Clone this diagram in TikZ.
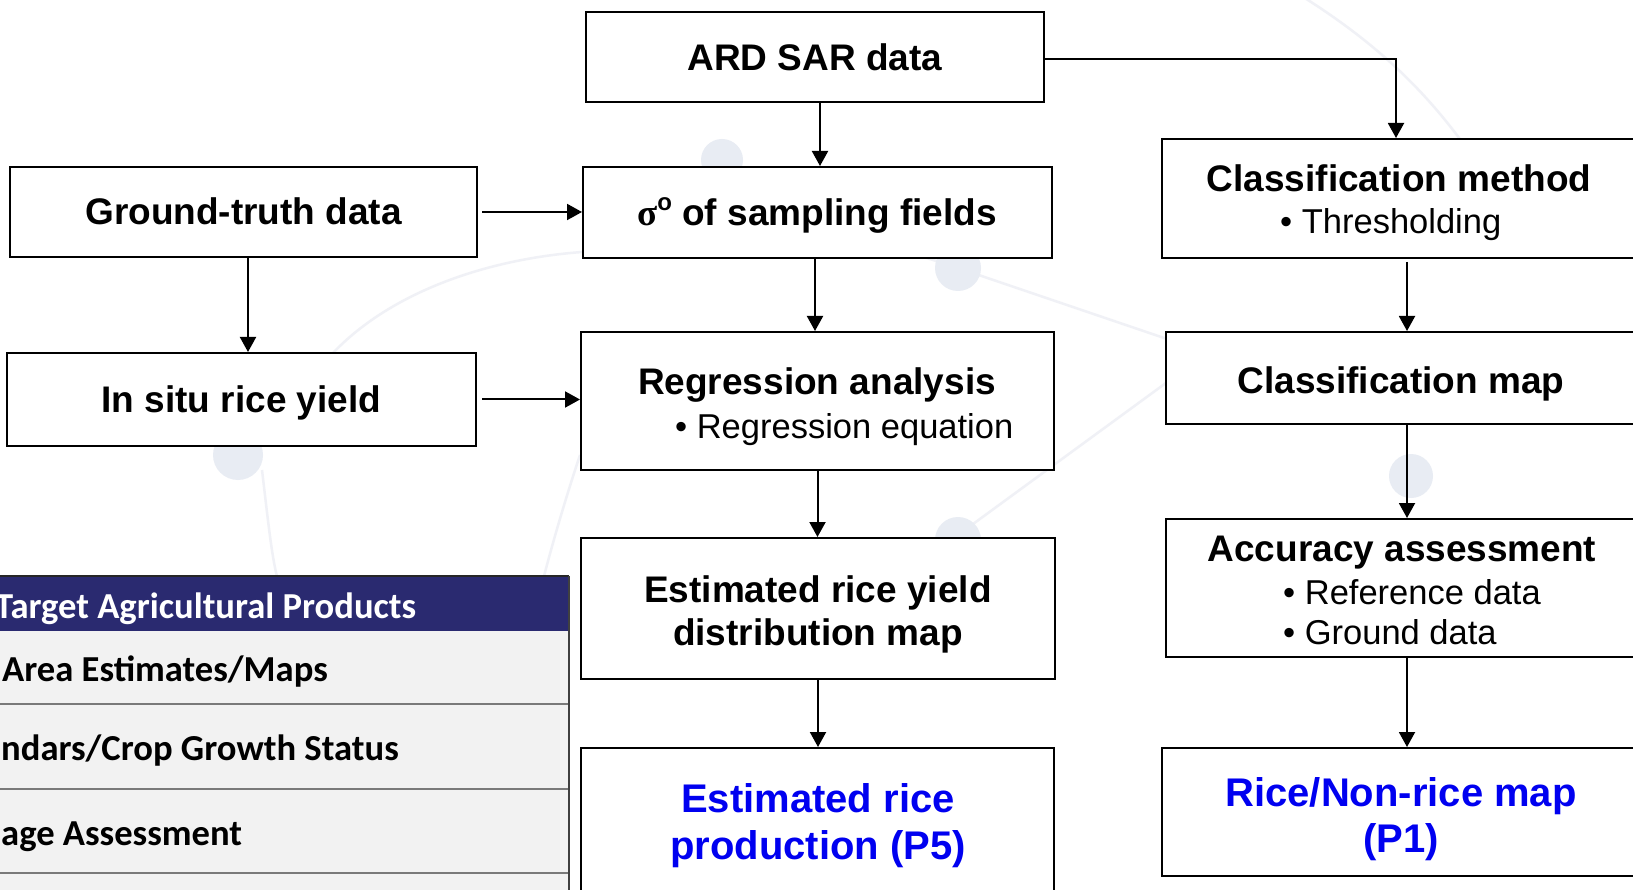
\documentclass[tikz,border=0pt]{standalone}
\usepackage{fontspec}
\setmainfont{Liberation Sans}
\newfontfamily\serifgr{Liberation Serif}
\newfontfamily\calibri{Carlito}
\usetikzlibrary{arrows.meta,calc}
\definecolor{navy}{HTML}{2A2A70}
\definecolor{rowgray}{HTML}{F2F2F2}
\definecolor{rowline}{HTML}{7A7A7A}
\definecolor{wmdot}{HTML}{E8ECF3}
\definecolor{wmline}{HTML}{F0F1F6}
\definecolor{outblue}{HTML}{0000F0}
\begin{document}
\begin{tikzpicture}[x=1pt,y=-1pt,
  box/.style={draw=black, line width=2pt, fill=white, inner sep=0pt},
  ttl/.style={font=\fontsize{37}{44}\selectfont\bfseries, inner sep=0pt, anchor=base},
  itm/.style={font=\fontsize{34.5}{40}\selectfont, inner sep=0pt, anchor=base west},
  res/.style={font=\fontsize{40}{47}\selectfont\bfseries, text=outblue, inner sep=0pt, anchor=base},
  tbl/.style={font=\calibri\bfseries\fontsize{36.6}{40}\selectfont, inner sep=0pt, anchor=base west},
  arr/.style={line width=2pt, -{Triangle[length=15pt,width=16pt]}},
  wm/.style={draw=wmline, line width=2.5pt}
]
\useasboundingbox (0,0) rectangle (1633,890);
\clip (0,0) rectangle (1633,890);
\fill[white] (0,0) rectangle (1633,890);

% faint network watermark
\draw[wm] (1300,-5) .. controls (1380,45) and (1430,95) .. (1475,160);
\draw[wm] (880,243) -- (958,268) -- (1170,340);
\draw[wm] (958,535) -- (1170,380);
\draw[wm] (582,252) .. controls (450,262) and (340,318) .. (300,400);
\draw[wm] (262,470) .. controls (268,520) and (272,560) .. (278,580);
\draw[wm] (580,455) .. controls (565,500) and (552,545) .. (543,580);
\fill[wmdot] (722,160) circle (21);
\fill[wmdot] (958,268) circle (23);
\fill[wmdot] (958,540) circle (23);
\fill[wmdot] (238,455) circle (25);
\fill[wmdot] (1411,476) circle (22);

% product table
\fill[rowgray] (-10,631) rectangle (569,900);
\fill[navy] (-10,576) rectangle (569,631);
\draw[black!85, line width=2pt] (-10,576) -- (569,576);
\foreach \yy in {704,789,873}
  \draw[rowline, line width=1.5pt] (-10,\yy) -- (569,\yy);
\draw[black!75, line width=1.5pt] (569,576) -- (569,900);
\node[tbl, text=white] (th) at (-5,618) {Target Agricultural Products};
\node[tbl] (r1) at (2,681.5) {Area Estimates/Maps};
\node[tbl] (r2) at (1,760.5) {ndars/Crop Growth Status};
\node[tbl] (r3) at (1,845) {age Assessment};

% flowchart boxes
\node[box, minimum width=458pt, minimum height=90pt]  (ard)  at (815,57) {};
\node[box, minimum width=469pt, minimum height=91pt]  (sig)  at (817.5,212.5) {};
\node[box, minimum width=467pt, minimum height=90pt]  (gt)   at (243.5,212) {};
\node[box, minimum width=469pt, minimum height=93pt]  (ins)  at (241.5,399.5) {};
\node[box, minimum width=473pt, minimum height=138pt] (reg)  at (817.5,401) {};
\node[box, minimum width=474pt, minimum height=141pt] (yld)  at (818,608.5) {};
\node[box, minimum width=473pt, minimum height=212pt] (prod) at (817.5,854) {};
\node[box, minimum width=475pt, minimum height=119pt] (cm)   at (1399.5,198.5) {};
\node[box, minimum width=471pt, minimum height=92pt]  (cmap) at (1401.5,378) {};
\node[box, minimum width=471pt, minimum height=138pt] (acc)  at (1401.5,588) {};
\node[box, minimum width=475pt, minimum height=128pt] (rice) at (1399.5,812) {};

% box texts
\node[ttl] (ard-t) at (815,71) {ARD SAR data};
\node[ttl] (sig-t) at (817,226) {{\serifgr σ}\raisebox{0.42em}{\fontsize{24}{24}\selectfont o} of sampling fields};
\node[ttl] (gt-t) at (243.5,225) {Ground-truth data};
\node[ttl] (ins-t) at (241.5,412.5) {In situ rice yield};
\node[ttl] (reg-t) at (817,395) {Regression analysis};
\node[itm] (reg-i) at (675,438) {\textbullet\ Regression equation};
\node[ttl] (yld-t1) at (818,602) {Estimated rice yield};
\node[ttl] (yld-t2) at (818,645) {distribution map};
\node[res] (prod-t1) at (818,812) {Estimated rice};
\node[res] (prod-t2) at (818,859) {production (P5)};
\node[ttl] (cm-t) at (1399,192) {Classification method};
\node[itm] (cm-i) at (1280,234) {\textbullet\ Thresholding};
\node[ttl] (cmap-t) at (1401,393) {Classification map};
\node[ttl] (acc-t) at (1402,561) {Accuracy assessment};
\node[itm] (acc-i1) at (1283,604) {\textbullet\ Reference data};
\node[itm] (acc-i2) at (1283,644) {\textbullet\ Ground data};
\node[res] (rice-t1) at (1401,806) {Rice/Non-rice map};
\node[res] (rice-t2) at (1401,852) {(P1)};

% connectors
\coordinate (a1) at ($(ard.south)+(5,0)$);
\draw[arr] (a1) -- (a1 |- sig.north);
\coordinate (s1) at ($(sig.south)+(-2.5,0)$);
\draw[arr] (s1) -- (s1 |- reg.north);
\draw[arr] (reg.south) -- (reg.south |- yld.north);
\draw[arr] (yld.south) -- (yld.south |- prod.north);
\draw[arr, shorten <=4pt] (gt.east) -- (gt.east -| sig.west);
\coordinate (g1) at ($(gt.south)+(4.5,0)$);
\draw[arr] (g1) -- (g1 |- ins.north);
\draw[arr, shorten <=5pt] (ins.east) -- (ins.east -| reg.west);
\coordinate (a2) at ($(ard.east)+(0,2)$);
\coordinate (c0) at ($(cm.north)+(-3.5,0)$);
\draw[arr] (a2) -| (c0);
\coordinate (c1) at ($(cm.south)+(7.5,0)$);
\draw[arr, shorten <=3pt] (c1) -- (c1 |- cmap.north);
\coordinate (c2) at ($(cmap.south)+(5.5,0)$);
\draw[arr] (c2) -- (c2 |- acc.north);
\coordinate (c3) at ($(acc.south)+(5.5,0)$);
\draw[arr] (c3) -- (c3 |- rice.north);
\end{tikzpicture}
\end{document}
